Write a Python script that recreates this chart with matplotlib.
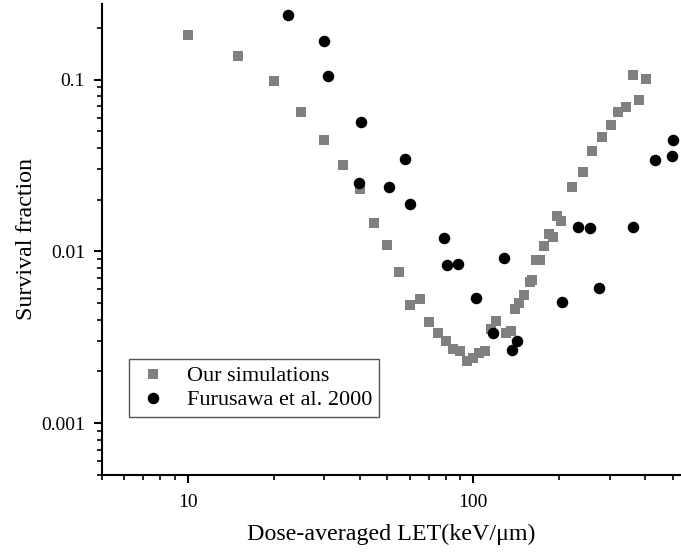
import matplotlib
matplotlib.use("Agg")
import matplotlib.pyplot as plt
from matplotlib.ticker import LogLocator, NullFormatter, FixedLocator, FixedFormatter

# Our simulations (dose-averaged LET keV/um, survival fraction)
sim_let = [10, 15, 20, 25, 30, 35, 40, 45, 50, 55, 60, 65, 70, 75, 80, 85, 90, 95,
           100, 105, 110, 115, 120, 130, 135, 140, 145, 150, 158, 161, 166, 171, 176,
           184, 190, 196, 202, 222, 242, 261, 281, 302, 321, 342, 362, 381, 403]
sim_sf = [0.1826, 0.1373, 0.0984, 0.0648, 0.0443, 0.0319, 0.0231, 0.0146, 0.0109,
          0.00761, 0.00487, 0.0053, 0.00386, 0.00334, 0.00301, 0.0027, 0.00264, 0.00229,
          0.0024, 0.00255, 0.00262, 0.00354, 0.00391, 0.00334, 0.00343, 0.0046, 0.00501,
          0.00556, 0.0066, 0.00682, 0.00894, 0.00894, 0.0108, 0.0127, 0.0121, 0.0161,
          0.0151, 0.0237, 0.0289, 0.0386, 0.0465, 0.0546, 0.0646, 0.0689, 0.1066,
          0.0762, 0.1003]

# Furusawa et al. 2000
exp_let = [22.5, 29.9, 31.1, 40.5, 39.8, 50.6, 57.7, 60.2, 79.0, 80.6, 88.5, 101.9,
           117.6, 127.9, 136.6, 142.6, 204.5, 231.8, 255.0, 275.3, 363.0, 431.0, 494.0, 501.0]
exp_sf = [0.238, 0.1676, 0.1047, 0.0567, 0.0251, 0.0237, 0.0344, 0.0188, 0.0119, 0.0083,
          0.00844, 0.00538, 0.00334, 0.0092, 0.00268, 0.00301, 0.00508, 0.0139, 0.0136,
          0.00612, 0.0138, 0.0341, 0.0358, 0.0445]

xticks = [10, 100]
xticklabels = ["10", "100"]
yticks = [0.001, 0.01, 0.1]
yticklabels = ["0.001", "0.01", "0.1"]

plt.rcParams['font.family'] = ['Liberation Serif', 'DejaVu Serif']

fig = plt.figure(figsize=(6.81, 5.54), dpi=100)
ax = fig.add_axes([0.1493, 0.1431, 0.8507, 0.8496])

ax.plot(sim_let, sim_sf, linestyle='none', marker='s', markersize=6.8,
        color='#808080', markeredgewidth=0, label='Our simulations', zorder=2)
ax.plot(exp_let, exp_sf, linestyle='none', marker='o', markersize=8.3,
        color='black', markeredgewidth=0, label='Furusawa et al. 2000', zorder=3)

ax.set_xscale('log')
ax.set_yscale('log')
ax.set_xlim(5, 533)
ax.set_ylim(5e-4, 0.2755)

ax.xaxis.set_major_locator(FixedLocator(xticks))
ax.xaxis.set_major_formatter(FixedFormatter(xticklabels))
ax.xaxis.set_minor_locator(LogLocator(base=10, subs=range(2, 10), numticks=20))
ax.xaxis.set_minor_formatter(NullFormatter())
ax.yaxis.set_major_locator(FixedLocator(yticks))
ax.yaxis.set_major_formatter(FixedFormatter(yticklabels))
ax.yaxis.set_minor_locator(LogLocator(base=10, subs=range(2, 10), numticks=20))
ax.yaxis.set_minor_formatter(NullFormatter())

for s in ['top', 'right']:
    ax.spines[s].set_visible(False)
for s in ['left', 'bottom']:
    ax.spines[s].set_linewidth(1.5)

ax.tick_params(which='major', direction='out', length=6, width=1.5, labelsize=14, pad=6)
ax.tick_params(which='minor', direction='out', length=3.5, width=1.2)
ax.tick_params(axis='x', which='major', pad=8)

ax.set_xlabel('Dose-averaged LET(keV/μm)', fontsize=17.3, labelpad=9)
ax.set_ylabel('Survival fraction', fontsize=17.3, labelpad=3)

leg = ax.legend(loc='lower left', bbox_to_anchor=(0.047, 0.1226), fontsize=16,
                frameon=True, fancybox=False, edgecolor='#555555', framealpha=1,
                handletextpad=0.7, borderpad=0.3, labelspacing=0.15,
                handlelength=1.6, borderaxespad=0)
leg.get_frame().set_linewidth(1.0)

fig.savefig('out.png', dpi=100)
